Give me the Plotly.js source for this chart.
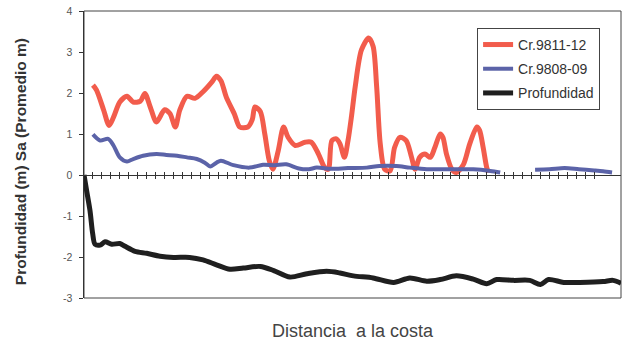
<!DOCTYPE html>
<html>
<head>
<meta charset="utf-8">
<script src="https://cdn.plot.ly/plotly-3.0.1.min.js"></script>
<style>html,body{margin:0;padding:0;background:#fff;}#chart{width:631px;height:345px;}</style>
</head>
<body>
<div id="chart"></div>
<script>
// Distance (tick-interval units) and values
const xCr981112 = [1.0,1.4,2.2,2.8,3.3,4.0,4.8,5.5,6.3,6.8,7.4,8.1,9.0,9.6,10.2,10.7,11.5,12.4,13.3,14.3,14.8,15.3,15.9,16.8,17.4,18.3,18.8,19.1,19.7,20.2,20.7,21.1,21.7,22.3,22.8,23.6,24.7,25.4,26.2,26.9,27.3,27.7,28.2,28.6,29.1,29.5,29.9,30.3,31.0,31.8,32.3,32.7,33.1,33.6,34.2,34.7,35.3,36.0,36.6,37.0,37.5,38.1,38.7,39.2,39.8,40.1,40.5,41.1,41.6,42.4,43.1,43.9,44.2,44.6,45.0,45.2];
const yCr981112 = [2.19,2.07,1.58,1.21,1.41,1.78,1.92,1.78,1.80,1.99,1.66,1.29,1.59,1.50,1.17,1.58,1.92,1.87,2.03,2.27,2.41,2.30,1.90,1.49,1.17,1.17,1.35,1.66,1.55,1.00,0.35,0.14,0.59,1.17,0.92,0.72,0.80,0.80,0.51,0.18,0.14,0.84,0.88,0.76,0.43,0.84,1.45,2.15,3.05,3.34,3.14,2.15,0.76,0.14,0.10,0.67,0.92,0.84,0.43,0.14,0.43,0.51,0.43,0.67,1.00,0.92,0.51,0.14,0.06,0.26,0.76,1.17,1.09,0.67,0.18,0.06];

const xCr980809 = [1.0,1.8,2.7,3.3,4.0,4.8,5.5,6.6,8.1,9.2,10.4,11.5,12.6,13.5,14.1,14.8,15.3,16.7,18.5,20.0,21.3,22.6,24.0,25.1,26.0,27.6,29.5,31.6,33.0,34.9,36.4,38.3,40.9,43.5,45.4,46.5,48.0,50.4,52.0,53.7,55.3,57.0,58.0,59.0];
const yCr980809 = [0.99,0.84,0.88,0.72,0.43,0.33,0.39,0.47,0.51,0.49,0.47,0.43,0.39,0.30,0.21,0.30,0.35,0.24,0.18,0.25,0.24,0.26,0.16,0.14,0.18,0.15,0.17,0.18,0.22,0.22,0.18,0.14,0.14,0.14,0.10,0.06,null,0.13,0.14,0.17,0.14,0.11,0.09,0.06];

const xProf = [0,0.3,0.67,0.97,1.23,1.8,2.35,3.1,4.0,4.6,5.7,7.0,8.5,10.0,11.8,13.3,14.8,16.3,17.8,19.7,21.2,23.0,24.9,27.1,28.6,30.1,32.3,34.6,36.4,38.3,39.8,41.6,43.5,45.0,46.1,48.0,49.8,51.0,51.9,53.6,55.4,58.0,59.1,60.0];
const yProf = [0,-0.39,-0.87,-1.43,-1.69,-1.71,-1.63,-1.69,-1.67,-1.74,-1.86,-1.91,-1.98,-2.01,-2.01,-2.07,-2.19,-2.30,-2.27,-2.23,-2.33,-2.49,-2.41,-2.35,-2.39,-2.46,-2.51,-2.62,-2.51,-2.59,-2.55,-2.46,-2.54,-2.65,-2.55,-2.57,-2.57,-2.67,-2.55,-2.62,-2.62,-2.60,-2.57,-2.64];

const seriesNames = ['Cr.9811-12','Cr.9808-09','Profundidad'];
const yTickVals = [-3,-2,-1,0,1,2,3,4];
const yTickText = ['-3','-2','-1','0','1','2','3','4'];
const xTitle = 'Distancia\u00a0 a la costa';
const yTitle = '<b>Profundidad (m) Sa (Promedio m)</b>';
const xTickVals = [];
for (let i = 1; i <= 57; i++) xTickVals.push(i);

const traces = [
  {x:xCr981112, y:yCr981112, name:seriesNames[0], type:'scatter', mode:'lines', legendgroup:'a',
   line:{color:'#f25c4c', width:5, shape:'spline', smoothing:0.8}},
  {x:xCr980809, y:yCr980809, name:seriesNames[1], type:'scatter', mode:'lines', legendgroup:'b',
   line:{color:'#5b63a8', width:4, shape:'spline', smoothing:0.8}, connectgaps:false},
  {x:xProf, y:yProf, name:seriesNames[2], type:'scatter', mode:'lines', legendgroup:'c', xaxis:'x2',
   line:{color:'#1f1f1f', width:5, shape:'spline', smoothing:0.8}}
];

const zeroPos = 3/7;
const layout = {
  width:631, height:345,
  margin:{l:84, r:10, t:11, b:47},
  paper_bgcolor:'#ffffff', plot_bgcolor:'#ffffff',
  font:{family:'Liberation Sans, Arial, sans-serif', color:'#444'},
  showlegend:true,
  legend:{x:0.732, y:0.941, xanchor:'left', yanchor:'top', bgcolor:'#ffffff',
          bordercolor:'#444', borderwidth:1, font:{size:14, color:'#333'},
          traceorder:'grouped', tracegroupgap:3},
  xaxis:{range:[0,60], anchor:'free', position:zeroPos, showgrid:false, zeroline:false,
         showline:true, linecolor:'#333', linewidth:1,
         tickmode:'array', tickvals:xTickVals, ticks:'outside', ticklen:3, tickcolor:'#333', tickwidth:1,
         showticklabels:false},
  xaxis2:{overlaying:'x', matches:'x', anchor:'free', position:zeroPos, showgrid:false, zeroline:false,
         showline:false, tickmode:'array', tickvals:xTickVals, ticks:'inside', ticklen:3,
         tickcolor:'#333', tickwidth:1, showticklabels:false},
  yaxis:{range:[-3,4], tickmode:'array', tickvals:yTickVals, ticktext:yTickText,
         showgrid:false, zeroline:false, showline:true, linecolor:'#333', linewidth:1.5,
         ticks:'outside', ticklen:4, tickcolor:'#333', tickfont:{size:10.5, color:'#555'},
         ticklabelstandoff:4},
  shapes:[
    {type:'rect', xref:'paper', yref:'paper', x0:0, x1:1, y0:0, y1:1, line:{color:'#444', width:1}, fillcolor:'rgba(0,0,0,0)', layer:'below'}
  ],
  annotations:[
    {text:xTitle, xref:'paper', yref:'paper', x:0.5, y:-0.115, xanchor:'center', yanchor:'middle',
     showarrow:false, font:{size:18, color:'#444'}},
    {text:yTitle, xref:'paper', yref:'paper', x:-0.117, y:0.474, xanchor:'center', yanchor:'middle',
     textangle:-90, showarrow:false, font:{size:15.5, color:'#333'}}
  ]
};

Plotly.newPlot('chart', traces, layout, {staticPlot:true, displayModeBar:false});
</script>
</body>
</html>
